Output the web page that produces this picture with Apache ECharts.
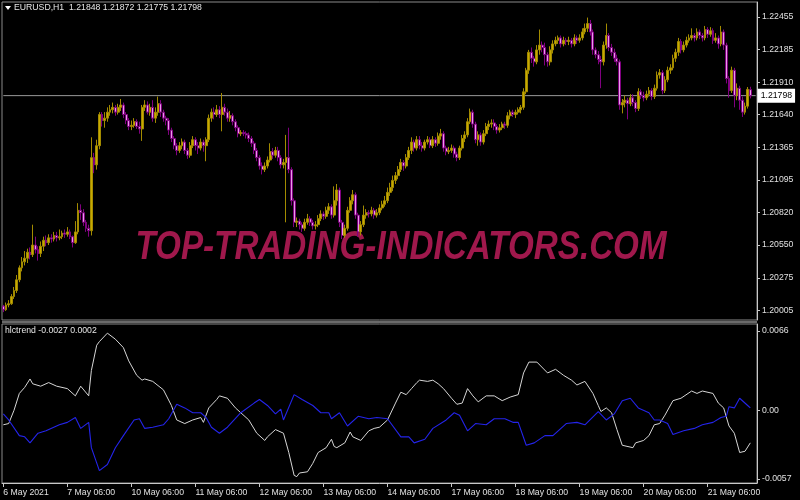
<!DOCTYPE html>
<html><head><meta charset="utf-8">
<script src="https://cdn.jsdelivr.net/npm/echarts@6/dist/echarts.min.js"></script>
<style>html,body{margin:0;padding:0;background:#000}#c{width:800px;height:500px}</style>
</head><body><div id="c"></div>
<script>
// [open, close, low, high] per H1 bar, from 6 May 2021 06:00
const priceBars = [
[1.2004,1.2001,1.1999,1.2005],[1.2001,1.2005,1.2000,1.2007],[1.2005,1.2006,1.2003,1.2009],[1.2006,1.2012,1.2005,1.2014],
[1.2012,1.2017,1.2010,1.2020],[1.2017,1.2026,1.2015,1.2030],[1.2026,1.2036,1.2024,1.2038],[1.2036,1.2041,1.2033,1.2045],
[1.2041,1.2044,1.2038,1.2050],[1.2044,1.2049,1.2040,1.2052],[1.2049,1.2047,1.2043,1.2053],[1.2047,1.2055,1.2045,1.2072],
[1.2055,1.2051,1.2048,1.2062],[1.2051,1.2048,1.2042,1.2054],[1.2048,1.2054,1.2045,1.2058],[1.2054,1.2059,1.2050,1.2062],
[1.2059,1.2057,1.2054,1.2063],[1.2057,1.2061,1.2055,1.2064],[1.2061,1.2060,1.2057,1.2064],[1.2060,1.2063,1.2058,1.2066],
[1.2063,1.2061,1.2058,1.2066],[1.2061,1.2062,1.2059,1.2068],[1.2062,1.2065,1.2060,1.2067],[1.2065,1.2064,1.2061,1.2068],
[1.2064,1.2066,1.2062,1.2070],[1.2066,1.2062,1.2060,1.2068],[1.2062,1.2057,1.2053,1.2063],[1.2057,1.2066,1.2056,1.2075],
[1.2066,1.2084,1.2064,1.2090],[1.2084,1.2082,1.2076,1.2089],[1.2082,1.2074,1.2071,1.2085],[1.2074,1.2069,1.2066,1.2076],
[1.2069,1.2067,1.2062,1.2072],[1.2067,1.2128,1.2063,1.2145],[1.2128,1.2122,1.2115,1.2132],[1.2122,1.2138,1.2118,1.2143],
[1.2138,1.2164,1.2135,1.2166],[1.2164,1.2159,1.2154,1.2166],[1.2159,1.2161,1.2153,1.2166],[1.2161,1.2166,1.2158,1.2170],
[1.2166,1.2168,1.2163,1.2172],[1.2168,1.2170,1.2165,1.2174],[1.2170,1.2166,1.2163,1.2172],[1.2166,1.2170,1.2164,1.2173],
[1.2170,1.2172,1.2167,1.2177],[1.2172,1.2164,1.2161,1.2174],[1.2164,1.2159,1.2156,1.2166],[1.2159,1.2154,1.2151,1.2161],
[1.2154,1.2155,1.2151,1.2159],[1.2155,1.2158,1.2153,1.2161],[1.2158,1.2154,1.2152,1.2160],[1.2154,1.2152,1.2148,1.2158],
[1.2152,1.2170,1.2142,1.2172],[1.2170,1.2172,1.2167,1.2176],[1.2172,1.2166,1.2164,1.2175],[1.2166,1.2170,1.2163,1.2173],
[1.2170,1.2161,1.2158,1.2176],[1.2161,1.2166,1.2157,1.2170],[1.2166,1.2173,1.2163,1.2179],[1.2173,1.2166,1.2162,1.2176],
[1.2166,1.2161,1.2158,1.2168],[1.2161,1.2159,1.2155,1.2163],[1.2159,1.2151,1.2147,1.2161],[1.2151,1.2144,1.2141,1.2153],
[1.2144,1.2138,1.2135,1.2146],[1.2138,1.2134,1.2130,1.2140],[1.2134,1.2138,1.2132,1.2141],[1.2138,1.2141,1.2135,1.2144],
[1.2141,1.2134,1.2131,1.2143],[1.2134,1.2130,1.2127,1.2136],[1.2130,1.2138,1.2128,1.2141],[1.2138,1.2143,1.2136,1.2146],
[1.2143,1.2138,1.2134,1.2145],[1.2138,1.2136,1.2131,1.2141],[1.2136,1.2141,1.2134,1.2144],[1.2141,1.2138,1.2133,1.2143],
[1.2138,1.2143,1.2125,1.2145],[1.2143,1.2161,1.2141,1.2164],[1.2161,1.2166,1.2158,1.2169],[1.2166,1.2164,1.2160,1.2170],
[1.2164,1.2168,1.2162,1.2172],[1.2168,1.2164,1.2161,1.2171],[1.2164,1.2170,1.2150,1.2182],[1.2170,1.2166,1.2163,1.2173],
[1.2166,1.2161,1.2158,1.2169],[1.2161,1.2163,1.2158,1.2167],[1.2163,1.2158,1.2155,1.2165],[1.2158,1.2153,1.2150,1.2160],
[1.2153,1.2148,1.2145,1.2155],[1.2148,1.2149,1.2146,1.2151],[1.2149,1.2148,1.2146,1.2151],[1.2148,1.2147,1.2144,1.2150],
[1.2147,1.2144,1.2141,1.2149],[1.2144,1.2140,1.2137,1.2146],[1.2140,1.2134,1.2131,1.2142],[1.2134,1.2128,1.2125,1.2136],
[1.2128,1.2121,1.2118,1.2130],[1.2121,1.2118,1.2114,1.2124],[1.2118,1.2121,1.2116,1.2124],[1.2121,1.2126,1.2119,1.2129],
[1.2126,1.2133,1.2124,1.2140],[1.2133,1.2130,1.2127,1.2136],[1.2130,1.2134,1.2128,1.2137],[1.2134,1.2128,1.2125,1.2137],
[1.2128,1.2122,1.2119,1.2130],[1.2122,1.2124,1.2119,1.2127],[1.2124,1.2128,1.2074,1.2147],[1.2128,1.2118,1.2115,1.2153],
[1.2118,1.2092,1.2088,1.2120],[1.2092,1.2074,1.2070,1.2094],[1.2074,1.2075,1.2070,1.2078],[1.2075,1.2072,1.2068,1.2077],
[1.2072,1.2069,1.2066,1.2074],[1.2069,1.2074,1.2067,1.2077],[1.2074,1.2077,1.2072,1.2081],[1.2077,1.2074,1.2071,1.2079],
[1.2074,1.2071,1.2068,1.2076],[1.2071,1.2072,1.2068,1.2075],[1.2072,1.2077,1.2070,1.2080],[1.2077,1.2081,1.2075,1.2084],
[1.2081,1.2079,1.2076,1.2083],[1.2079,1.2084,1.2077,1.2087],[1.2084,1.2087,1.2081,1.2090],[1.2087,1.2080,1.2077,1.2089],
[1.2080,1.2092,1.2078,1.2104],[1.2092,1.2101,1.2088,1.2106],[1.2101,1.2074,1.2070,1.2103],[1.2074,1.2063,1.2060,1.2076],
[1.2063,1.2069,1.2061,1.2072],[1.2069,1.2084,1.2067,1.2087],[1.2084,1.2092,1.2082,1.2095],[1.2092,1.2097,1.2089,1.2101],
[1.2097,1.2080,1.2077,1.2099],[1.2080,1.2066,1.2062,1.2082],[1.2066,1.2072,1.2063,1.2075],[1.2072,1.2080,1.2070,1.2088],
[1.2080,1.2082,1.2077,1.2085],[1.2082,1.2081,1.2078,1.2084],[1.2081,1.2084,1.2079,1.2087],[1.2084,1.2080,1.2077,1.2086],
[1.2080,1.2082,1.2078,1.2085],[1.2082,1.2086,1.2080,1.2089],[1.2086,1.2089,1.2084,1.2092],[1.2089,1.2092,1.2087,1.2096],
[1.2092,1.2099,1.2090,1.2103],[1.2099,1.2103,1.2096,1.2107],[1.2103,1.2109,1.2100,1.2113],[1.2109,1.2113,1.2106,1.2116],
[1.2113,1.2118,1.2110,1.2121],[1.2118,1.2124,1.2116,1.2127],[1.2124,1.2121,1.2117,1.2126],[1.2121,1.2128,1.2119,1.2131],
[1.2128,1.2134,1.2126,1.2137],[1.2134,1.2141,1.2131,1.2145],[1.2141,1.2136,1.2133,1.2143],[1.2136,1.2143,1.2134,1.2146],
[1.2143,1.2138,1.2135,1.2146],[1.2138,1.2136,1.2133,1.2141],[1.2136,1.2141,1.2134,1.2143],[1.2141,1.2143,1.2139,1.2146],
[1.2143,1.2138,1.2136,1.2145],[1.2138,1.2143,1.2136,1.2146],[1.2143,1.2140,1.2137,1.2145],[1.2140,1.2146,1.2138,1.2149],
[1.2146,1.2148,1.2143,1.2152],[1.2148,1.2136,1.2133,1.2150],[1.2136,1.2133,1.2130,1.2138],[1.2133,1.2134,1.2131,1.2137],
[1.2134,1.2136,1.2132,1.2139],[1.2136,1.2131,1.2128,1.2138],[1.2131,1.2128,1.2125,1.2133],[1.2128,1.2136,1.2126,1.2138],
[1.2136,1.2144,1.2134,1.2147],[1.2144,1.2147,1.2141,1.2150],[1.2147,1.2158,1.2145,1.2161],[1.2158,1.2166,1.2156,1.2169],
[1.2166,1.2156,1.2153,1.2168],[1.2156,1.2143,1.2140,1.2158],[1.2143,1.2147,1.2138,1.2150],[1.2147,1.2141,1.2138,1.2149],
[1.2141,1.2148,1.2139,1.2151],[1.2148,1.2154,1.2146,1.2157],[1.2154,1.2156,1.2151,1.2159],[1.2156,1.2157,1.2153,1.2160],
[1.2157,1.2154,1.2151,1.2160],[1.2154,1.2151,1.2148,1.2156],[1.2151,1.2153,1.2149,1.2156],[1.2153,1.2156,1.2151,1.2158],
[1.2156,1.2155,1.2152,1.2158],[1.2155,1.2163,1.2153,1.2166],[1.2163,1.2166,1.2160,1.2168],[1.2166,1.2164,1.2162,1.2168],
[1.2164,1.2166,1.2161,1.2168],[1.2166,1.2168,1.2164,1.2170],[1.2168,1.2170,1.2165,1.2172],[1.2170,1.2183,1.2168,1.2186],
[1.2183,1.2201,1.2181,1.2203],[1.2201,1.2216,1.2198,1.2218],[1.2216,1.2211,1.2207,1.2220],[1.2211,1.2208,1.2204,1.2213],
[1.2208,1.2218,1.2206,1.2222],[1.2218,1.2222,1.2214,1.2235],[1.2222,1.2220,1.2216,1.2225],[1.2220,1.2214,1.2205,1.2224],
[1.2214,1.2208,1.2204,1.2216],[1.2208,1.2218,1.2205,1.2221],[1.2218,1.2223,1.2215,1.2226],[1.2223,1.2226,1.2221,1.2229],
[1.2226,1.2228,1.2223,1.2230],[1.2228,1.2223,1.2220,1.2230],[1.2223,1.2226,1.2221,1.2229],[1.2226,1.2225,1.2222,1.2228],
[1.2225,1.2226,1.2222,1.2229],[1.2226,1.2223,1.2220,1.2228],[1.2223,1.2228,1.2221,1.2231],[1.2228,1.2226,1.2223,1.2230],
[1.2226,1.2228,1.2224,1.2231],[1.2228,1.2233,1.2226,1.2236],[1.2233,1.2236,1.2231,1.2240],[1.2236,1.2240,1.2233,1.2245],
[1.2240,1.2233,1.2230,1.2243],[1.2233,1.2218,1.2214,1.2235],[1.2218,1.2214,1.2211,1.2220],[1.2214,1.2210,1.2206,1.2217],
[1.2210,1.2208,1.2186,1.2213],[1.2208,1.2222,1.2205,1.2225],[1.2222,1.2230,1.2219,1.2240],[1.2230,1.2220,1.2217,1.2232],
[1.2220,1.2216,1.2213,1.2223],[1.2216,1.2211,1.2208,1.2219],[1.2211,1.2208,1.2205,1.2214],[1.2208,1.2172,1.2168,1.2210],
[1.2172,1.2174,1.2165,1.2177],[1.2174,1.2176,1.2170,1.2180],[1.2176,1.2173,1.2160,1.2178],[1.2173,1.2178,1.2171,1.2181],
[1.2178,1.2174,1.2171,1.2181],[1.2174,1.2169,1.2166,1.2176],[1.2169,1.2183,1.2167,1.2186],[1.2183,1.2180,1.2177,1.2185],
[1.2180,1.2178,1.2175,1.2183],[1.2178,1.2181,1.2176,1.2184],[1.2181,1.2184,1.2179,1.2187],[1.2184,1.2179,1.2176,1.2186],
[1.2179,1.2186,1.2177,1.2189],[1.2186,1.2197,1.2184,1.2200],[1.2197,1.2199,1.2194,1.2202],[1.2199,1.2184,1.2181,1.2201],
[1.2184,1.2193,1.2182,1.2196],[1.2193,1.2201,1.2191,1.2204],[1.2201,1.2203,1.2198,1.2206],[1.2203,1.2211,1.2201,1.2214],
[1.2211,1.2216,1.2208,1.2219],[1.2216,1.2225,1.2213,1.2228],[1.2225,1.2218,1.2215,1.2227],[1.2218,1.2222,1.2216,1.2225],
[1.2222,1.2226,1.2220,1.2229],[1.2226,1.2228,1.2224,1.2231],[1.2228,1.2230,1.2226,1.2236],[1.2230,1.2228,1.2225,1.2232],
[1.2228,1.2233,1.2226,1.2236],[1.2233,1.2230,1.2227,1.2235],[1.2230,1.2228,1.2225,1.2232],[1.2228,1.2235,1.2226,1.2238],
[1.2235,1.2231,1.2228,1.2237],[1.2231,1.2234,1.2229,1.2237],[1.2234,1.2226,1.2223,1.2236],[1.2226,1.2228,1.2224,1.2232],
[1.2228,1.2223,1.2219,1.2230],[1.2223,1.2233,1.2221,1.2238],[1.2233,1.2222,1.2218,1.2235],[1.2222,1.2194,1.2190,1.2224],
[1.2194,1.2184,1.2178,1.2196],[1.2184,1.2201,1.2182,1.2204],[1.2201,1.2180,1.2170,1.2203],[1.2180,1.2186,1.2176,1.2190],
[1.2186,1.2176,1.2168,1.2188],[1.2176,1.2166,1.2162,1.2179],[1.2166,1.2171,1.2164,1.2174],[1.2171,1.2185,1.2169,1.2187],
[1.21848,1.21798,1.21775,1.21872]
];
// hlctrend lines: [bar index, value]
const whiteLine = [[0,-0.0012],[2,-0.0011],[4,0.0000],[6,0.0014],[8,0.0019],[10,0.0026],[11,0.0022],[14,0.0020],[17,0.0023],[20,0.0020],[24,0.0018],[27,0.0012],[29,0.0020],[32,0.0012],[33,0.0033],[35,0.0054],[36,0.0057],[39,0.0064],[42,0.0059],[45,0.0052],[47,0.0041],[50,0.0029],[52,0.0025],[53,0.0026],[56,0.0024],[60,0.0017],[63,0.0004],[65,-0.0008],[68,-0.0011],[71,-0.0008],[74,-0.0006],[75,-0.0010],[77,0.0002],[80,0.0009],[81,0.0012],[84,0.0010],[87,0.0002],[92,-0.0008],[95,-0.0019],[98,-0.0025],[99,-0.0022],[102,-0.0016],[105,-0.0019],[107,-0.0035],[109,-0.0054],[110,-0.0055],[111,-0.0052],[114,-0.0051],[116,-0.0044],[118,-0.0035],[121,-0.0031],[123,-0.0024],[124,-0.0030],[125,-0.0031],[128,-0.0027],[130,-0.0018],[131,-0.0022],[134,-0.0025],[137,-0.0017],[139,-0.0015],[141,-0.0014],[144,-0.0008],[147,0.0006],[149,0.0015],[151,0.0013],[153,0.0018],[155,0.0023],[156,0.0025],[159,0.0024],[161,0.0025],[163,0.0022],[165,0.0018],[168,0.0010],[170,0.0005],[172,0.0006],[174,0.0018],[176,0.0012],[178,0.0007],[181,0.0012],[184,0.0012],[187,0.0008],[190,0.0011],[193,0.0013],[195,0.0031],[197,0.0040],[200,0.0040],[204,0.0031],[207,0.0034],[210,0.0029],[213,0.0025],[215,0.0021],[218,0.0024],[221,0.0014],[223,0.0004],[224,-0.0001],[226,0.0002],[228,-0.0002],[230,-0.0016],[232,-0.0029],[236,-0.0031],[237,-0.0027],[240,-0.0025],[242,-0.0021],[244,-0.0012],[246,-0.0011],[248,-0.0004],[251,0.0008],[254,0.0010],[258,0.0016],[260,0.0014],[262,0.0016],[266,0.0014],[268,0.0006],[270,0.0002],[272,-0.0013],[274,-0.0019],[276,-0.0035],[278,-0.0034],[280,-0.0027]];
const blueLine = [[0,-0.0003],[2,-0.0008],[6,-0.0021],[8,-0.0022],[10,-0.0027],[13,-0.0019],[16,-0.0017],[21,-0.0012],[24,-0.0010],[27,-0.0006],[29,-0.0015],[32,-0.0010],[33,-0.0031],[36,-0.0050],[39,-0.0045],[42,-0.0031],[45,-0.0021],[49,-0.0008],[51,-0.0007],[53,-0.0015],[56,-0.0014],[60,-0.0012],[62,-0.0007],[65,0.0005],[68,0.0002],[71,-0.0002],[74,-0.0002],[76,-0.0006],[78,-0.0014],[81,-0.0019],[84,-0.0014],[89,-0.0002],[94,0.0006],[96,0.0009],[99,0.0004],[102,-0.0003],[104,0.0001],[105,-0.0008],[109,0.0013],[112,0.0009],[116,0.0004],[119,-0.0002],[122,-0.0002],[123,-0.0007],[126,-0.0002],[129,-0.0013],[133,-0.0005],[137,-0.0007],[140,-0.0006],[144,-0.0007],[149,-0.0022],[152,-0.0022],[154,-0.0027],[158,-0.0024],[161,-0.0015],[166,-0.0008],[169,-0.0002],[171,-0.0004],[174,-0.0017],[177,-0.0011],[181,-0.0012],[184,-0.0007],[188,-0.0007],[191,-0.0010],[193,-0.0010],[196,-0.0029],[199,-0.0027],[203,-0.0021],[206,-0.0021],[211,-0.0011],[215,-0.0010],[218,-0.0012],[223,-0.0001],[226,-0.0008],[229,-0.0003],[232,0.0008],[235,0.0010],[238,0.0002],[242,-0.0002],[244,-0.0008],[246,-0.0008],[249,-0.0011],[251,-0.0020],[255,-0.0017],[259,-0.0015],[262,-0.0012],[266,-0.0010],[269,-0.0006],[271,-0.0005],[272,0.0003],[274,0.0002],[276,0.0010],[279,0.0004],[280,0.0002]];

const priceTicks = [1.20005,1.20275,1.20550,1.20820,1.21095,1.21365,1.21640,1.21910,1.22185,1.22455];
const trendTicks = [-0.0057, 0, 0.0066];
const timeLabels = ['6 May 2021','7 May 06:00','10 May 06:00','11 May 06:00','12 May 06:00','13 May 06:00','14 May 06:00','17 May 06:00','18 May 06:00','19 May 06:00','20 May 06:00','21 May 06:00'];
const sessionDays = ['6','7','10','11','12','13','14','17','18','19','20','21'];
const lastPrice = 1.21798;
const headerText = 'EURUSD,H1  1.21848 1.21872 1.21775 1.21798';
const indicatorText = 'hlctrend -0.0027 0.0002';
const watermarkText = 'TOP-TRADING-INDICATORS.COM';

const categories = [];
sessionDays.forEach((d, k) => {
  for (let h = (k === 0 ? 6 : 0); h < 24; h++) categories.push(d + ' May ' + String(h).padStart(2, '0') + ':00');
});
categories.push('');
const lastIdx = categories.length - 1;

const FONT = "'Liberation Sans', Arial, sans-serif";
const FS = 8.7;
const labelEvery = 24;
const showLabel = (i) => i % labelEvery === 0 && i / labelEvery < timeLabels.length;

const chart = echarts.init(document.getElementById('c'), null, {renderer: 'canvas'});
chart.setOption({
  backgroundColor: '#000',
  animation: false,
  grid: [
    {left: 2, top: 2, width: 755, height: 318, show: true, borderColor: '#8a8a8a', borderWidth: 1},
    {left: 2, top: 324, width: 755, height: 159, show: true, borderColor: '#8a8a8a', borderWidth: 1}
  ],
  xAxis: [
    {type: 'category', gridIndex: 0, data: categories, show: false},
    {type: 'category', gridIndex: 1, data: categories,
      axisLine: {show: true, onZero: false, lineStyle: {color: '#c8c8c8', width: 1}},
      axisTick: {show: true, alignWithLabel: true, interval: showLabel, length: 4, lineStyle: {color: '#c8c8c8'}},
      axisLabel: {interval: showLabel, formatter: (v, i) => timeLabels[i / labelEvery], align: 'left',
        color: '#e0e0e0', fontSize: FS, fontFamily: FONT, margin: 5},
      splitLine: {show: false}}
  ],
  yAxis: [
    {type: 'value', gridIndex: 0, position: 'right', min: 1.19924, max: 1.22580,
      splitLine: {show: false},
      axisLine: {show: true, lineStyle: {color: '#c8c8c8'}},
      axisTick: {show: true, length: 3, customValues: priceTicks, lineStyle: {color: '#c8c8c8'}},
      axisLabel: {customValues: priceTicks, formatter: v => v.toFixed(5), color: '#e0e0e0', fontSize: FS, fontFamily: FONT, margin: 5}},
    {type: 'value', gridIndex: 1, position: 'right', min: -0.00603, max: 0.00716,
      splitLine: {show: false},
      axisLine: {show: true, lineStyle: {color: '#c8c8c8'}},
      axisTick: {show: true, length: 3, customValues: trendTicks, lineStyle: {color: '#c8c8c8'}},
      axisLabel: {customValues: trendTicks, formatter: v => (v === 0 ? '0.00' : v.toFixed(4)), color: '#e0e0e0', fontSize: FS, fontFamily: FONT, margin: 5}}
  ],
  series: [
    {type: 'line', xAxisIndex: 0, yAxisIndex: 0, data: [[0, lastPrice], [lastIdx, lastPrice]], symbol: 'none', showSymbol: false,
      lineStyle: {color: '#9a9a9a', width: 1}, z: 1, silent: true,
      endLabel: {show: true, formatter: lastPrice.toFixed(5), backgroundColor: '#ffffff', color: '#000',
        padding: [3, 3, 2, 3], fontSize: FS, fontFamily: FONT, distance: 2}},
    {type: 'candlestick', xAxisIndex: 0, yAxisIndex: 0, data: priceBars, barWidth: 2.4, z: 2,
      itemStyle: {color: '#c8aa00', color0: '#e89ce8', borderColor: '#a38b00', borderColor0: '#800080', borderWidth: 1}},
    {type: 'line', xAxisIndex: 1, yAxisIndex: 1, data: whiteLine, showSymbol: false, symbol: 'none',
      lineStyle: {color: '#d6d6d6', width: 1}},
    {type: 'line', xAxisIndex: 1, yAxisIndex: 1, data: blueLine, showSymbol: false, symbol: 'none',
      lineStyle: {color: '#2424ea', width: 1.1}}
  ],
  graphic: [
    {type: 'rect', shape: {x: 2, y: 321, width: 755, height: 2}, style: {fill: '#6a6a6a'}, silent: true},
    {type: 'polygon', shape: {points: [[5, 6], [11, 6], [8, 10]]}, style: {fill: '#ffffff'}, silent: true},
    {type: 'text', x: 14, y: 8, style: {text: headerText, fill: '#e6e6e6', font: FS + 'px ' + FONT, textVerticalAlign: 'middle'}, silent: true},
    {type: 'text', x: 5, y: 331, style: {text: indicatorText, fill: '#e6e6e6', font: FS + 'px ' + FONT, textVerticalAlign: 'middle'}, silent: true},
    {type: 'text', x: 401, y: 248, scaleX: 0.83, z: -1,
      style: {text: watermarkText, fill: '#a0184c', font: 'italic bold 40px "Liberation Sans", Arial, sans-serif',
        textAlign: 'center', textVerticalAlign: 'middle'}, silent: true}
  ]
});
</script>
</body></html>
